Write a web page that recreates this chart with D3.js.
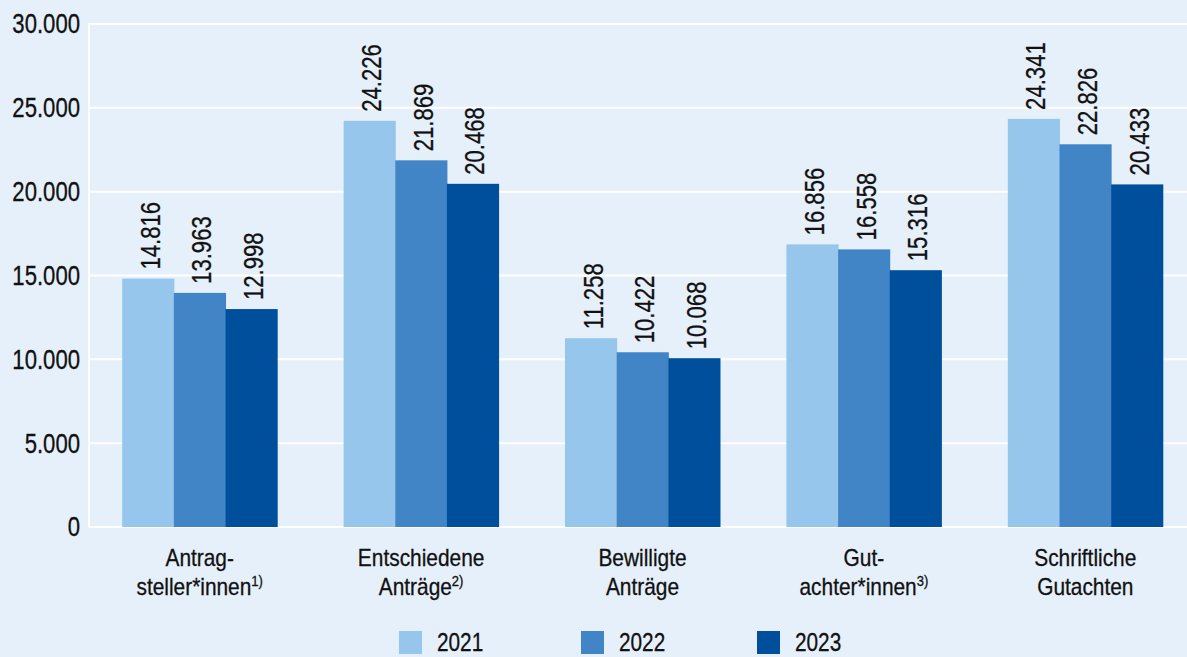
<!DOCTYPE html>
<html><head><meta charset="utf-8">
<script src="https://cdn.jsdelivr.net/npm/d3@7"></script>
<style>
html,body{margin:0;padding:0;background:#e6f0fa;}
svg{display:block;font-family:"Liberation Sans",Arial,sans-serif;}
svg text{stroke:#111;stroke-width:0.3px;}
</style></head><body>
<svg id="c" width="1187" height="657"></svg>
<script>
const categories = ["Antragsteller", "Entschiedene", "Bewilligte", "Gutachter", "Schriftliche"];
const labelLine1 = ["Antrag-", "Entschiedene", "Bewilligte", "Gut-", "Schriftliche"];
const labelLine2 = ["steller*innen", "Anträge", "Anträge", "achter*innen", "Gutachten"];
const labelSup = ["1)", "2)", "", "3)", ""];
const years = ["2021", "2022", "2023"];
const v2021 = [14816, 24226, 11258, 16856, 24341];
const v2022 = [13963, 21869, 10422, 16558, 22826];
const v2023 = [12998, 20468, 10068, 15316, 20433];
const yTicks = [0, 5000, 10000, 15000, 20000, 25000, 30000];
const colors = ["#96c6eb", "#4285c7", "#004f9d"];

const series = [v2021, v2022, v2023];
const svg = d3.select("#c");
const W = 1187, H = 657;
const ink = "#111";
svg.append("rect").attr("width", W).attr("height", H).attr("fill", "#e6f0fa");

const x0 = d3.scaleBand().domain(categories).range([89, 1196]).paddingInner(0.3).paddingOuter(0.15);
const x1 = d3.scaleBand().domain(years).range([0, x0.bandwidth()]);
const y = d3.scaleLinear().domain([0, 30000]).range([527, 24]);
const fmt = d3.formatLocale({decimal: ",", thousands: ".", grouping: [3], currency: ["", "€"]}).format(",d");

// gridlines
svg.append("g").selectAll("line").data(yTicks).join("line")
  .attr("x1", 88).attr("x2", W).attr("y1", d => y(d)).attr("y2", d => y(d))
  .attr("stroke", "#fff").attr("stroke-width", 2);
svg.append("line").attr("x1", 89).attr("x2", 89).attr("y1", y(30000)).attr("y2", y(0))
  .attr("stroke", "#fff").attr("stroke-width", 2);

// y axis labels
const yAxis = d3.axisLeft(y).tickValues(yTicks).tickFormat(fmt).tickSize(0).tickPadding(0);
const ga = svg.append("g").attr("transform", "translate(80,0)").call(yAxis);
ga.select(".domain").remove();
ga.selectAll("text").attr("font-size", 27).attr("fill", ink).attr("font-family", null)
  .attr("x", 0).attr("dy", "0.33em").attr("transform", "scale(0.82,1)");

// bars
const groups = svg.append("g").selectAll("g").data(categories).join("g")
  .attr("transform", d => `translate(${x0(d)},0)`);
groups.each(function(cat, i) {
  const g = d3.select(this);
  years.forEach((yr, j) => {
    const val = series[j][i];
    g.append("rect").attr("x", x1(yr)).attr("width", x1.bandwidth() + 0.5)
      .attr("y", y(val)).attr("height", y(0) - y(val)).attr("fill", colors[j]);
    const cx = x1(yr) + x1.bandwidth() / 2 + 2;
    g.append("text").attr("transform", `translate(${cx},${y(val) - 9}) rotate(-90) scale(0.82,1)`)
      .attr("dy", "0.36em").attr("font-size", 27).attr("fill", ink).text(fmt(val));
  });
});

// category labels
categories.forEach((c, i) => {
  const cx = x0(c) + x0.bandwidth() / 2;
  svg.append("text").attr("transform", `translate(${cx},566) scale(0.87,1)`).attr("text-anchor", "middle")
    .attr("font-size", 24).attr("fill", ink).text(labelLine1[i]);
  const t = svg.append("text").attr("transform", `translate(${cx},595) scale(0.87,1)`).attr("text-anchor", "middle")
    .attr("font-size", 24).attr("fill", ink);
  t.append("tspan").text(labelLine2[i]);
  if (labelSup[i]) t.append("tspan").attr("font-size", 15).attr("dy", -9).text(labelSup[i]);
});

// legend
const legX = [399, 581, 757];
years.forEach((yr, j) => {
  svg.append("rect").attr("x", legX[j]).attr("y", 631).attr("width", 23).attr("height", 23).attr("fill", colors[j]);
  svg.append("text").attr("transform", `translate(${legX[j] + 38},651) scale(0.8,1)`)
    .attr("font-size", 26).attr("fill", ink).text(yr);
});
</script></body></html>
